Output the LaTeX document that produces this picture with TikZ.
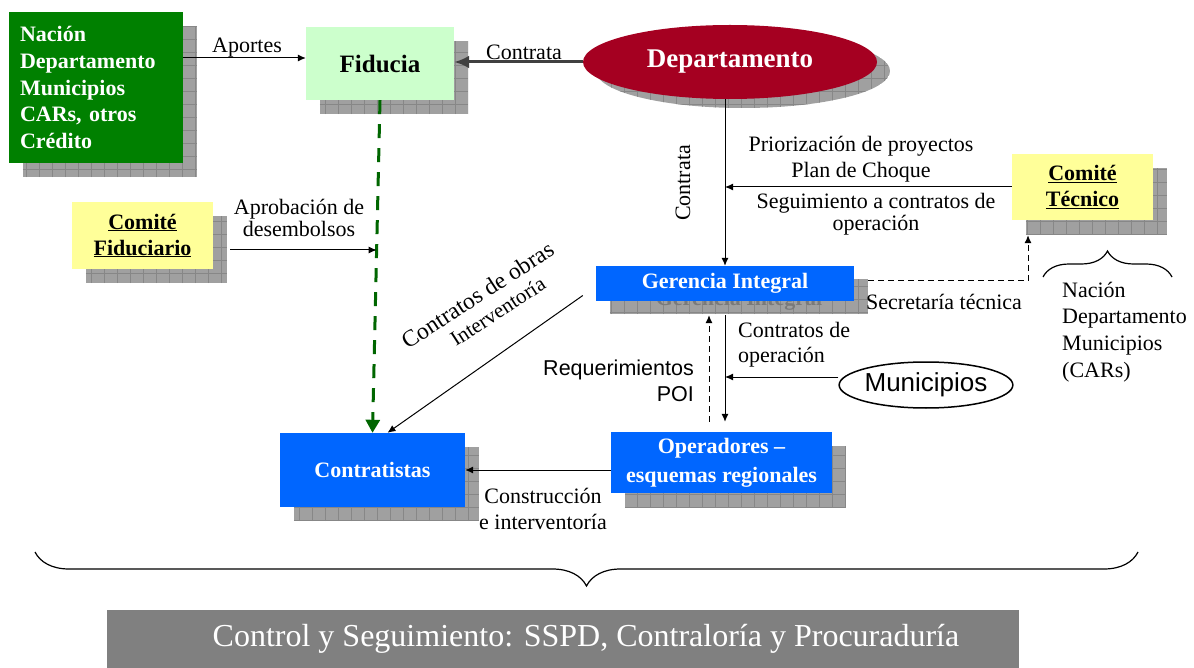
\documentclass[tikz,border=0pt]{standalone}
\usepackage{fontspec}
\setmainfont{Liberation Serif}
\setsansfont{Liberation Sans}
\usetikzlibrary{positioning,shapes.geometric,arrows.meta,backgrounds,calc,decorations.pathreplacing}

\definecolor{verde}{HTML}{008000}
\definecolor{verdeclaro}{HTML}{CCFFCC}
\definecolor{vino}{HTML}{A50021}
\definecolor{amarillo}{HTML}{FFFF99}
\definecolor{azul}{HTML}{0066FF}
\definecolor{sombra}{HTML}{A0A0A0}
\definecolor{rejilla}{HTML}{878787}
\definecolor{gris}{HTML}{808080}
\definecolor{grisoscuro}{HTML}{404040}
\definecolor{verdeflecha}{HTML}{006600}

% sombra cuadriculada detras de una caja
\newcommand{\sombrarect}[2]{%
  \begin{scope}
    \clip #1 rectangle #2;
    \fill[sombra] #1 rectangle #2;
    \draw[rejilla, line width=0.7pt, step=13pt] #1 grid #2;
  \end{scope}}
\newcommand{\sombranodo}[1]{%
  \sombrarect{([shift={(14pt,-14pt)}]#1.north west)}{([shift={(14pt,-14pt)}]#1.south east)}}

\begin{document}
\begin{tikzpicture}[x=1pt,y=-1pt,
    caja/.style={rectangle, inner sep=0pt, align=center,
      font=\fontsize{22}{28}\selectfont\bfseries},
    etiqueta/.style={inner sep=0pt, align=center,
      font=\fontsize{22}{22}\selectfont},
    fantasma/.style={inner sep=0pt, align=center, text=black!52,
      font=\fontsize{22}{28}\selectfont\bfseries},
    flecha/.style={-{Latex[length=8pt,width=7pt]}, line width=1pt},
    discontinua/.style={dash pattern=on 6pt off 4pt},
    llave/.style={decorate, line width=1.2pt}]
  \useasboundingbox (0,0) rectangle (1194,668);

  % cajas
  \node[caja, fill=verde, text=white, minimum width=174pt, minimum height=151pt,
    text width=152pt, align=left, font=\fontsize{22}{26.7}\selectfont\bfseries]
    (fuentes) at (96,87.5) {Nación\\Departamento\\Municipios\\CARs, otros\\Crédito};
  \node[caja, fill=verdeclaro, minimum width=148pt, minimum height=73pt,
    font=\fontsize{25}{28}\selectfont\bfseries] (fiducia) at (380,63.5) {Fiducia};
  \node[ellipse, fill=vino, text=white, minimum width=294pt, minimum height=74pt,
    inner sep=0pt, font=\fontsize{27}{30}\selectfont\bfseries]
    (depto) at (730,62) {Departamento};
  \node[caja, fill=amarillo, minimum width=141pt, minimum height=66pt,
    font=\fontsize{22}{26}\selectfont\bfseries]
    (tecnico) at (1082.5,187) {\underline{Comité}\\\underline{Técnico}};
  \node[caja, fill=amarillo, minimum width=141pt, minimum height=67pt,
    font=\fontsize{22}{26}\selectfont\bfseries]
    (fiduciario) at (142.5,235.5) {\underline{Comité}\\\underline{Fiduciario}};
  \node[caja, fill=azul, text=white, minimum width=258pt, minimum height=35pt]
    (gerencia) at (725,283.5) {Gerencia Integral};
  \node[caja, fill=azul, text=white, minimum width=185pt, minimum height=74pt]
    (contratistas) at (372.5,470) {Contratistas};
  \node[caja, fill=azul, text=white, minimum width=221pt, minimum height=61pt,
    font=\fontsize{22}{29}\selectfont\bfseries]
    (operadores) at (721.5,462.5) {Operadores –\\esquemas regionales};
  \node[ellipse, draw, line width=1.5pt, fill=white, minimum width=148pt,
    minimum height=46pt, inner sep=0pt, font=\sffamily\fontsize{26}{28}\selectfont]
    (municipios) at (926,385) {Municipios};
  \node[fill=gris, text=white, minimum width=912pt, minimum height=58pt,
    inner sep=0pt, font=\fontsize{32}{34}\selectfont]
    (control) at (563,639) {\hspace*{46pt}Control y Seguimiento: SSPD, Contraloría y Procuraduría};

  % sombras
  \begin{pgfonlayer}{background}
    \fill[white] (0,0) rectangle (1194,668);
    \sombranodo{fuentes}
    \sombranodo{fiducia}
    \sombranodo{tecnico}
    \sombranodo{fiduciario}
    \sombrarect{([shift={(14pt,-13pt)}]gerencia.north west)}{([shift={(14pt,-13pt)}]gerencia.south east)}
    \sombranodo{contratistas}
    \sombranodo{operadores}
    \begin{scope}
      \clip ([shift={(13pt,-9pt)}]depto.center) ellipse [x radius=147, y radius=37];
      \fill[sombra] ([shift={(13pt,-9pt)}]depto.center) ellipse [x radius=147, y radius=37];
      \draw[rejilla, line width=0.7pt, step=13pt] (580,20) grid (900,120);
    \end{scope}
    \node[fantasma] at ([shift={(14pt,-17pt)}]gerencia.center) {Gerencia Integral};
  \end{pgfonlayer}

  % puntos auxiliares
  \coordinate (g1) at ([yshift=-14pt]gerencia.south);
  \coordinate (o1) at (gerencia.south |- operadores.north);
  \coordinate (m1) at ([yshift=8pt]municipios.west);
  \coordinate (s1) at ([shift={(14pt,2.5pt)}]gerencia.east);
  \coordinate (t1) at ([shift={(-54.5pt,-15pt)}]tecnico.south);
  \coordinate (f1) at ([shift={(17pt,-14.5pt)}]fiduciario.east);
  \coordinate (v1) at ($(fiducia.south)!0.45!(contratistas.north)$);
  \coordinate (ap) at ([yshift=5.5pt]fiducia.west);

  % conectores
  \draw[flecha] (ap -| fuentes.east) -- (ap);
  \draw[-{Latex[length=15pt,width=13pt]}, line width=3pt, grisoscuro]
    (depto.west) -- (depto.west -| fiducia.east);
  \draw[flecha] (gerencia.north |- depto.south) -- (gerencia.north);
  \draw[flecha] (tecnico.west) -- (tecnico.west -| gerencia.north);
  \draw[-{Triangle[length=13pt,width=14pt]}, verdeflecha, line width=3pt,
    dash pattern=on 14pt off 10pt] (fiducia.south) -- (contratistas.north);
  \draw[flecha] (f1) -- (f1 -| v1);
  \draw[flecha] ([shift={(-13pt,-12pt)}]gerencia.west) -- ([xshift=15pt]contratistas.north);
  \draw[flecha, discontinua] (s1) -| (t1);
  \draw[flecha] (g1) -- ([yshift=10pt]o1);
  \draw[flecha, discontinua] ([shift={(-16pt,10pt)}]o1) -- ([xshift=-16pt]g1);
  \draw[flecha] (m1) -- (m1 -| g1);
  \draw[flecha] (operadores.west |- contratistas.east) -- (contratistas.east);

  % etiquetas
  \node[etiqueta] (aportes) at (247,48) {Aportes};
  \node[etiqueta] (contrata1) at (524,52) {Contrata};
  \node[etiqueta, rotate=90] (contrata2) at (683,183) {Contrata};
  \node[etiqueta, font=\fontsize{22}{26}\selectfont] (priorizacion) at (861,159)
    {Priorización de proyectos\\Plan de Choque};
  \node[etiqueta] (seguimiento) at (876,214) {Seguimiento a contratos de\\operación};
  \node[etiqueta] (aprobacion) at (299,218) {Aprobación de\\desembolsos};
  \node[etiqueta, rotate=33, font=\fontsize{23.5}{24}\selectfont] (obras) at (484,305)
    {Contratos de obras\\{\fontsize{21}{24}\selectfont\hspace{16pt}Interventoría}};
  \node[etiqueta, anchor=west] (secretaria) at (866,302) {Secretaría técnica};
  \node[etiqueta, align=left, anchor=west, font=\fontsize{22}{25}\selectfont]
    (contratosop) at (738,344.5) {Contratos de\\operación};
  \node[etiqueta, align=right, anchor=east, font=\sffamily\fontsize{21.5}{26}\selectfont]
    (requer) at (694,381) {Requerimientos\\POI};
  \node[etiqueta, font=\fontsize{22}{26}\selectfont] (construccion) at (543,509)
    {Construcción\\e interventoría};
  \node[etiqueta, align=left, anchor=west, font=\fontsize{22}{26.7}\selectfont]
    (miembros) at (1062,332) {Nación\\Departamento\\Municipios\\(CARs)};

  % llaves
  \coordinate (l1) at (1043,277);
  \coordinate (l2) at (1172,277);
  \draw[llave, decoration={brace, amplitude=26pt}] (l1) -- (l2);
  \coordinate (l3) at (1138,552);
  \coordinate (l4) at (35,552);
  \draw[llave, decoration={brace, amplitude=34pt}] (l3) -- (l4);
\end{tikzpicture}
\end{document}
